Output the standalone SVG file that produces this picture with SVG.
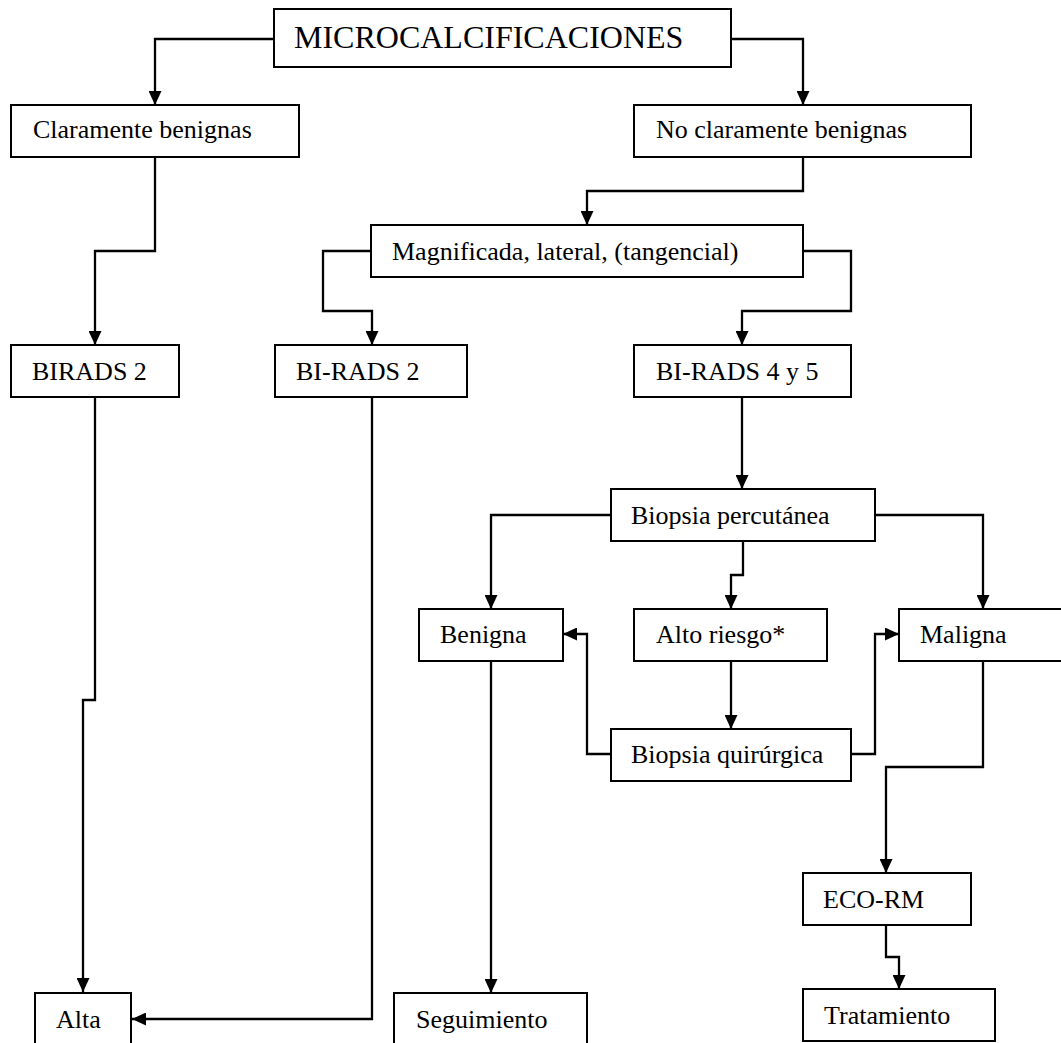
<svg xmlns="http://www.w3.org/2000/svg" width="1061" height="1043" viewBox="0 0 1061 1043">
<style>
.box{fill:#fff;stroke:#000;stroke-width:2}
.t{font-family:"Liberation Serif","Times New Roman",serif;font-size:26px;fill:#000}
.title{font-family:"Liberation Serif","Times New Roman",serif;font-size:32px;fill:#000}
.c{fill:none;stroke:#000;stroke-width:2.3}
</style>
<defs>
<marker id="ah" markerUnits="userSpaceOnUse" markerWidth="14" markerHeight="13" refX="14" refY="6.5" orient="auto" viewBox="0 0 14 13">
<path d="M0,0 L14,6.5 L0,13 Z" fill="#000"/>
</marker>
</defs>
<rect width="1061" height="1043" fill="#fff"/>
<g id="connectors">
<path class="c" marker-end="url(#ah)" d="M274,39 H155 V105"/>
<path class="c" marker-end="url(#ah)" d="M731,39 H803 V105"/>
<path class="c" marker-end="url(#ah)" d="M155,157 V251 H95 V345"/>
<path class="c" marker-end="url(#ah)" d="M803,157 V191 H587 V225"/>
<path class="c" marker-end="url(#ah)" d="M371,251 H323 V311 H372 V345"/>
<path class="c" marker-end="url(#ah)" d="M803,251 H851 V311 H742 V345"/>
<path class="c" marker-end="url(#ah)" d="M742,397 V489"/>
<path class="c" marker-end="url(#ah)" d="M95,397 V700 H83 V992"/>
<path class="c" marker-end="url(#ah)" d="M372,397 V1019 H132"/>
<path class="c" marker-end="url(#ah)" d="M611,515 H491 V609"/>
<path class="c" marker-end="url(#ah)" d="M743,541 V575 H731 V609"/>
<path class="c" marker-end="url(#ah)" d="M875,515 H983 V609"/>
<path class="c" marker-end="url(#ah)" d="M731,661 V729"/>
<path class="c" marker-end="url(#ah)" d="M611,754 H587 V634 H563"/>
<path class="c" marker-end="url(#ah)" d="M851,754 H875 V634 H899"/>
<path class="c" marker-end="url(#ah)" d="M491,661 V993"/>
<path class="c" marker-end="url(#ah)" d="M983,661 V767 H886 V873"/>
<path class="c" marker-end="url(#ah)" d="M886,925 V957 H899 V989"/>
</g>
<g id="n-micro"><rect class="box" x="274" y="9" width="457" height="58"/><text class="title" x="294" y="48">MICROCALCIFICACIONES</text></g>
<g id="n-claramente"><rect class="box" x="11" y="105" width="288" height="52"/><text class="t" x="33" y="138">Claramente benignas</text></g>
<g id="n-noclaramente"><rect class="box" x="634" y="105" width="337" height="52"/><text class="t" x="656" y="138">No claramente benignas</text></g>
<g id="n-magnificada"><rect class="box" x="371" y="225" width="432" height="52"/><text class="t" x="392" y="260">Magnificada, lateral, (tangencial)</text></g>
<g id="n-birads2a"><rect class="box" x="11" y="345" width="168" height="52"/><text class="t" x="32" y="380">BIRADS 2</text></g>
<g id="n-birads2b"><rect class="box" x="275" y="345" width="192" height="52"/><text class="t" x="296" y="380">BI-RADS 2</text></g>
<g id="n-birads45"><rect class="box" x="634" y="345" width="217" height="52"/><text class="t" x="656" y="380">BI-RADS 4 y 5</text></g>
<g id="n-percutanea"><rect class="box" x="611" y="489" width="264" height="52"/><text class="t" x="631" y="524">Biopsia percutánea</text></g>
<g id="n-benigna"><rect class="box" x="419" y="609" width="144" height="52"/><text class="t" x="440" y="643">Benigna</text></g>
<g id="n-altoriesgo"><rect class="box" x="634" y="609" width="193" height="52"/><text class="t" x="656" y="643">Alto riesgo*</text></g>
<g id="n-maligna"><rect class="box" x="899" y="609" width="180" height="52"/><text class="t" x="920" y="643">Maligna</text></g>
<g id="n-quirurgica"><rect class="box" x="611" y="729" width="240" height="52"/><text class="t" x="631" y="763">Biopsia quirúrgica</text></g>
<g id="n-ecorm"><rect class="box" x="803" y="873" width="168" height="52"/><text class="t" x="823" y="908">ECO-RM</text></g>
<g id="n-alta"><rect class="box" x="35" y="993" width="96" height="60"/><text class="t" x="56" y="1028">Alta</text></g>
<g id="n-seguimiento"><rect class="box" x="394" y="993" width="193" height="60"/><text class="t" x="416" y="1028">Seguimiento</text></g>
<g id="n-tratamiento"><rect class="box" x="803" y="989" width="192" height="52"/><text class="t" x="824" y="1024">Tratamiento</text></g>
</svg>
